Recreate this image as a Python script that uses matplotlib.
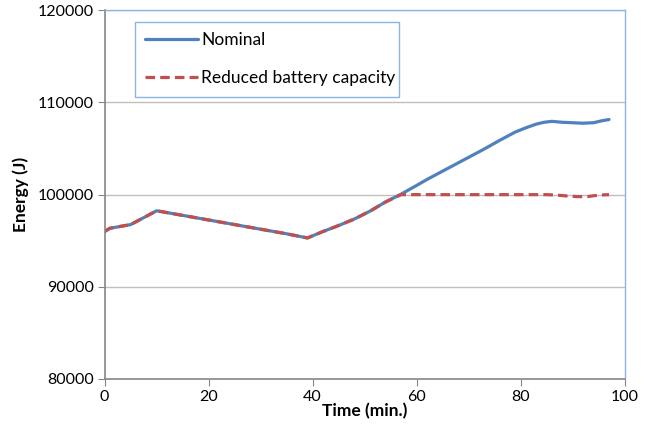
import matplotlib
matplotlib.use("Agg")
import matplotlib.pyplot as plt

# data
time_nominal = [0, 1, 2, 3, 5, 7, 10, 15, 20, 25, 30, 35, 39, 42, 45, 48, 51, 54, 57,
                60, 62, 65, 68, 70, 73, 76, 79, 81, 83, 84.5, 86, 88, 90, 92, 94, 95.5, 97]
energy_nominal = [96000, 96350, 96450, 96550, 96750, 97350, 98250, 97750, 97250, 96750,
                  96250, 95750, 95300, 96000, 96650, 97350, 98200, 99200, 100050,
                  101000, 101650, 102550, 103450, 104050, 104950, 105900, 106800, 107250,
                  107650, 107850, 107950, 107850, 107800, 107750, 107800, 108000, 108150]

time_reduced = [0, 1, 2, 3, 5, 7, 10, 15, 20, 25, 30, 35, 39, 42, 45, 48, 51, 54, 57,
                60, 65, 70, 75, 80, 85, 87, 89, 91, 93, 95, 97]
energy_reduced = [96000, 96350, 96450, 96550, 96750, 97350, 98250, 97750, 97250, 96750,
                  96250, 95750, 95300, 96000, 96650, 97350, 98200, 99200, 100000,
                  100000, 100000, 100000, 100000, 100000, 100000, 99950, 99850, 99780,
                  99800, 99950, 100000]

y_ticks = [80000, 90000, 100000, 110000, 120000]
x_ticks = [0, 20, 40, 60, 80, 100]

BLUE = "#4F81BD"
RED = "#C0504D"
GRID = "#BFBFBF"
AXIS_GRAY = "#868686"
BORDER_BLUE = "#8EB4E3"

plt.rcParams["font.family"] = ["Lato", "DejaVu Sans"]

fig = plt.figure(figsize=(6.5, 4.32), dpi=100)
ax = fig.add_axes([0.161, 0.1227, 0.8, 0.8535])

ax.plot(time_nominal, energy_nominal, color=BLUE, linewidth=2.3, label="Nominal",
        solid_capstyle="round")
ax.plot(time_reduced, energy_reduced, color=RED, linewidth=2.3, linestyle=(0, (3.0, 1.6)),
        label="Reduced battery capacity")

ax.set_xlim(0, 100)
ax.set_ylim(80000, 120000)
ax.set_xticks(x_ticks)
ax.set_yticks(y_ticks)
ax.tick_params(labelsize=11.5, length=5, color=AXIS_GRAY, direction="out", pad=3)

ax.set_axisbelow(True)
ax.grid(axis="y", color=GRID, linewidth=1.0)

for side in ("left", "bottom"):
    ax.spines[side].set_color(AXIS_GRAY)
    ax.spines[side].set_linewidth(1.2)
for side in ("top", "right"):
    ax.spines[side].set_color(BORDER_BLUE)
    ax.spines[side].set_linewidth(1.0)

ax.set_xlabel("Time (min.)", fontsize=12.5, fontweight="bold", labelpad=-1)
ax.set_ylabel("Energy (J)", fontsize=12.5, fontweight="bold", labelpad=6)

leg = ax.legend(loc="upper left", bbox_to_anchor=(135 / 650, 1 - 96 / 432, 264 / 650, 74 / 432),
                bbox_transform=fig.transFigure, mode="expand", fontsize=12.5,
                fancybox=False, framealpha=1, handlelength=3.0, handletextpad=0.2,
                labelspacing=1.25, borderpad=0.6, borderaxespad=0)
leg.get_frame().set_edgecolor(BORDER_BLUE)
leg.get_frame().set_linewidth(1.0)

fig.savefig("out.png", dpi=100)
